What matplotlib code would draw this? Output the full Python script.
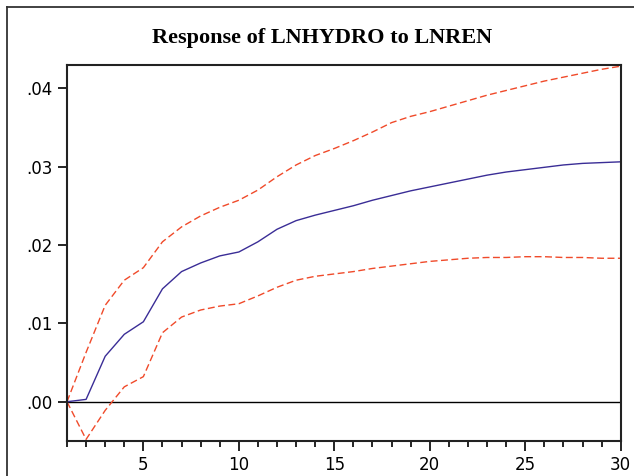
import matplotlib
matplotlib.use("Agg")
import matplotlib.pyplot as plt
from matplotlib.ticker import MultipleLocator, FuncFormatter
from matplotlib.lines import Line2D

# impulse response periods and values
periods = list(range(1, 31))
response = [0.0000, 0.0003, 0.0058, 0.0086, 0.0102, 0.0144, 0.0166, 0.0177, 0.0186, 0.0191,
            0.0204, 0.0220, 0.0231, 0.0238, 0.0244, 0.0250, 0.0257, 0.0263, 0.0269, 0.0274,
            0.0279, 0.0284, 0.0289, 0.0293, 0.0296, 0.0299, 0.0302, 0.0304, 0.0305, 0.0306]
upper = [0.0000, 0.0063, 0.0123, 0.0155, 0.0171, 0.0204, 0.0223, 0.0237, 0.0248, 0.0257,
         0.0270, 0.0287, 0.0302, 0.0314, 0.0323, 0.0333, 0.0344, 0.0356, 0.0364, 0.0370,
         0.0377, 0.0384, 0.0391, 0.0397, 0.0403, 0.0409, 0.0414, 0.0419, 0.0424, 0.0428]
lower = [0.0000, -0.0048, -0.0011, 0.0019, 0.0032, 0.0088, 0.0108, 0.0117, 0.0122, 0.0125,
         0.0135, 0.0146, 0.0155, 0.0160, 0.0163, 0.0166, 0.0170, 0.0173, 0.0176, 0.0179,
         0.0181, 0.0183, 0.0184, 0.0184, 0.0185, 0.0185, 0.0184, 0.0184, 0.0183, 0.0183]

title = "Response of LNHYDRO to LNREN"

fig = plt.figure(figsize=(6.34, 4.76), dpi=100)
ax = fig.add_axes([67 / 634, 35.3 / 476, 553.7 / 634, 375.7 / 476])

# outer frame (cut off at right and bottom)
fig.add_artist(Line2D([7 / 634, 1.0], [1 - 7 / 476, 1 - 7 / 476], transform=fig.transFigure,
                      color="#333333", lw=1.3))
fig.add_artist(Line2D([7 / 634, 7 / 634], [0.0, 1 - 7 / 476], transform=fig.transFigure,
                      color="#333333", lw=1.3))

ax.axhline(0, color="black", lw=1.0)
ax.plot(periods, upper, color="#f04a2a", lw=1.0, dashes=(5, 2.5))
ax.plot(periods, lower, color="#f04a2a", lw=1.0, dashes=(5, 2.5))
ax.plot(periods, response, color="#3a2d96", lw=1.0)

ax.set_xlim(1, 30)
ax.set_ylim(-0.00497, 0.04295)

ax.xaxis.set_major_locator(MultipleLocator(5))
ax.xaxis.set_minor_locator(MultipleLocator(1))
ax.yaxis.set_major_locator(MultipleLocator(0.01))
ax.yaxis.set_major_formatter(FuncFormatter(lambda v, p: ("%.2f" % v).lstrip("0").replace("-0", "-")))

ax.tick_params(axis="x", which="major", direction="out", length=7.2, width=1.2,
               labelsize=12, pad=4)
ax.tick_params(axis="x", which="minor", direction="out", length=4.3, width=1.2)
ax.tick_params(axis="y", which="major", direction="out", length=6.5, width=1.2,
               labelsize=12, pad=4)

for s in ax.spines.values():
    s.set_linewidth(1.5)
    s.set_color("#222222")

fig.text(322 / 634, 1 - 38 / 476, title, ha="center", va="center",
         fontsize=16, fontweight="bold", family="Liberation Serif")

fig.savefig("out.png", dpi=100)
